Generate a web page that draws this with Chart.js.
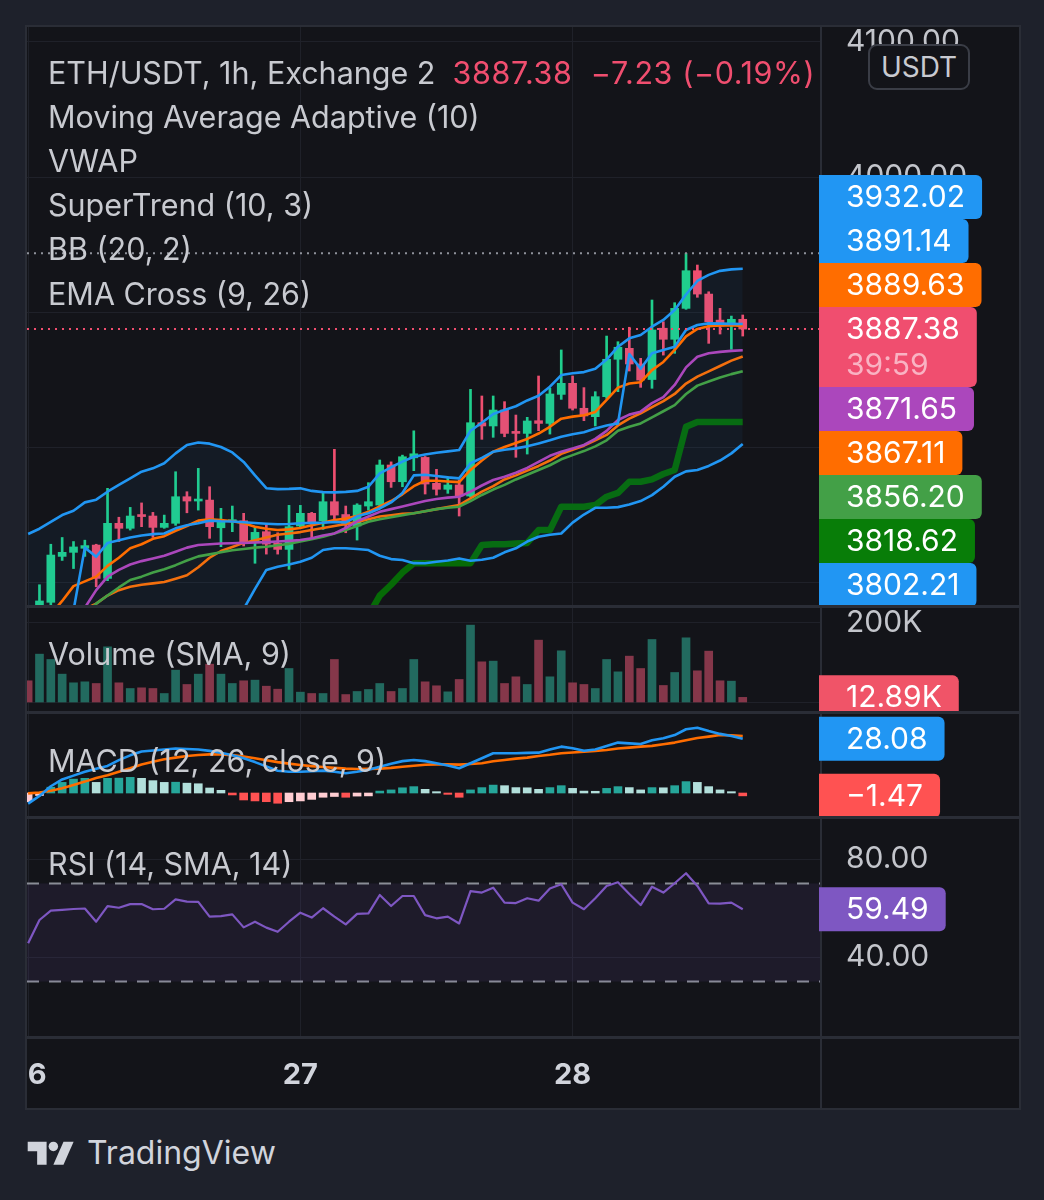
<!DOCTYPE html>
<html>
<head>
<meta charset="utf-8">
<title>ETH/USDT 1h</title>
<script src="https://cdn.jsdelivr.net/npm/chart.js@4.4.1/dist/chart.umd.min.js"></script>
<style>
  html, body { margin:0; padding:0; width:1044px; height:1200px; background:#1e212b; overflow:hidden; }
  body { position:relative; font-family: Inter, "Noto Sans", "DejaVu Sans", sans-serif; }
  #frame { position:absolute; left:25px; top:25px; width:996px; height:1085px; background:#2a2d36; }
  canvas { position:absolute; left:27px; background:#131419; }
  .lg { position:absolute; left:48px; font-size:30.5px; line-height:36px; color:#c8cad0; white-space:pre; }
  .red { color:#f04e6f; letter-spacing:0.6px; }
  #usdt { position:absolute; left:868px; top:44px; width:98px; height:42px; border:2px solid #3a3d46; border-radius:9px;
          background:#131419; color:#c8cad0; font-size:28px; line-height:42px; text-align:center; }
  #brand { position:absolute; left:27px; top:1134px; height:36px; display:flex; align-items:center; color:#d1d4dc; font-size:32px; }
  #brand svg { margin-right:10px; }
</style>
</head>
<body>
<div id="frame"></div>
<canvas id="cPrice" width="992" height="578" style="top:27px"></canvas>
<canvas id="cVol" width="992" height="103" style="top:608px"></canvas>
<canvas id="cMacd" width="992" height="102" style="top:714px"></canvas>
<canvas id="cRsi" width="992" height="289" style="top:819px"></canvas>

<div class="lg" style="top:55px">ETH/USDT, 1h, Exchange 2  <span class="red" id="hdrVal"></span></div>
<div class="lg" style="top:99px">Moving Average Adaptive (10)</div>
<div class="lg" style="top:143px">VWAP</div>
<div class="lg" style="top:187px">SuperTrend (10, 3)</div>
<div class="lg" style="top:231px">BB (20, 2)</div>
<div class="lg" style="top:276px">EMA Cross (9, 26)</div>
<div class="lg" style="top:636px">Volume (SMA, 9)</div>
<div class="lg" style="top:743px">MACD (12, 26, close, 9)</div>
<div class="lg" style="top:846px">RSI (14, SMA, 14)</div>
<div id="usdt">USDT</div>
<div id="brand">
  <svg width="50" height="27" viewBox="0 0 36 20"><path fill="#d1d4dc" d="M14 19H7V9H0V2h14v17z"/><circle fill="#d1d4dc" cx="19" cy="5.5" r="3.5"/><path fill="#d1d4dc" d="M26.5 19H19l7.5-17H34l-7.5 17z"/></svg>
  <span>TradingView</span>
</div>

<script>
// ---------- data (hourly candles, 26 00:00 .. 28 15:00) ----------
const dayStarts = [0, 24, 48];
const dayLabels = ['26', '27', '28'];
const X_RANGE = [-0.1, 69.9];

const open  = [3681,3672,3685,3719,3722,3725,3727.4,3702.7,3743.5,3739.8, 3749.6,3748.9,3740.5,3743.5,3763.2,3760,3760.7,3740.2,3744.7,3745.4,
               3729.1,3737.3,3728.7,3724.2,3741.5,3750.9,3745.4,3759.5,3750,3741.5, 3756.3,3757,3786.7,3774.3,3792,3792.3,3773.1,3768.7,3771.9,3763.7,
               3818,3815.6,3827.4,3811.3,3810.1,3819.5,3817.5,3839,3847.2,3828.7, 3822.5,3837.3,3865,3873.1,3861.5,3850,3888,3879.8,3902.7,3930.6,
               3913.3,3894,3890.4,3894.61];
const high  = [3682,3698,3728,3733,3730,3731,3728,3769.4,3748,3755.3, 3758.6,3751.6,3749.6,3781.7,3766.9,3784.2,3770.6,3754.6,3756.3,3750.9,
               3740.5,3742.2,3736.5,3756.8,3756.8,3751.6,3765.7,3798.3,3756.3,3758, 3773.6,3790.4,3789,3794,3812,3793,3783.5,3778,3775.6,3842.7,
               3837.8,3837.8,3833.6,3823.7,3822,3852.6,3843.5,3871.9,3852.6,3844, 3841,3882.2,3878,3888.7,3865.7,3908.9,3892.8,3906.9,3943.5,3934.8,
               3915,3902.7,3897,3897.8];
const low   = [3655,3668,3680,3716,3710,3719,3696.5,3701,3730,3738.5, 3741,3733.1,3739.8,3742,3751.3,3753.3,3732.4,3726.2,3737.3,3726.7,
               3713.9,3720.7,3720.7,3709.4,3739.8,3732.4,3739,3744.7,3736.5,3731.1, 3753.3,3756.3,3770.1,3770.6,3782.5,3765.2,3764.4,3765.7,3748.9,3763,
               3805.7,3807.2,3807.6,3792.4,3794.8,3812.1,3809.6,3835.3,3827.4,3819.5, 3815.6,3836,3841,3856.3,3844.2,3843.5,3868.1,3869.4,3902,3910.9,
               3876.8,3883.7,3872.4,3882.2];
const close = [3665,3686,3720,3722,3726,3727,3702.7,3743.5,3739.8,3748.9, 3748.5,3740.5,3743.5,3763.2,3760,3760.7,3741,3744.7,3745.9,3729.1,
               3736.8,3728.1,3724.2,3741,3750.9,3744.7,3759.5,3749.6,3742.2,3757, 3759.5,3786.7,3774.3,3792.8,3795,3772.6,3768.7,3771.9,3763.7,3818,
               3815.6,3827.4,3810.1,3810.1,3819.3,3817.5,3839.3,3847.2,3828.7,3823, 3837.3,3865,3873.9,3861.5,3849.6,3886.7,3879.8,3902.7,3930.6,3913.3,
               3892.8,3889.6,3894.61,3887.38];
const volumeK = [54.6,121.6,108.2,71.3,49.5,52,47.8,140,49.5,35.2, 36.9,35.2,22.6,81.3,45.3,71.3,96.4,71.3,47.8,54.6,
                 56.2,41,33.5,85.5,26,22.6,22.6,108.2,20,27.7, 32.7,47.8,27.7,35.2,108.2,52,42,26.8,57.9,194.6,
                 102.3,104,47.8,64.6,45.3,156.8,64.6,130,49.5,45.3, 35.2,108.2,77.1,116.6,85.5,158.5,42.8,75.5,162.7,79.7,
                 129.2,54.6,53.7,12.89];

// overlays
const bbUpper = [3735.6,3739.5,3744.5,3749.6,3752.8,3759,3761,3766.9,3771.9,3776.8, 3781.7,3784.2,3788,3795.3,3801.5,3803.3,3802.5,3800,3796,3789,
                 3779,3769.5,3768.8,3769,3769.4,3767.5,3766.6,3766.4,3766.8,3767.5, 3770.6,3780.5,3785,3789.2,3792.8,3794.5,3795.8,3796.8,3797.8,3812.1,
                 3818,3824.4,3827.5,3830.2,3834.5,3838,3844.7,3853.3,3854.6,3855.5, 3858,3864.8,3874.3,3880.5,3883,3889.1,3894.1,3901.5,3913,3923,
                 3927.5,3930.5,3931.6,3932.02];
const bbBasis = [3650,3658,3664,3670,3675,3680,3684,3690,3694,3696.5, 3698,3699,3700,3702.5,3705,3711,3718,3723,3726,3729,
                 3731,3733,3735,3736,3737,3738.5,3740,3741.5,3743,3744.5, 3746.5,3748.5,3749.5,3750.5,3751,3752.5,3754,3755.5,3757,3762,
                 3767,3771,3776,3779,3782.5,3786,3790,3795,3798,3801, 3805,3809,3816,3821,3825,3829.5,3834,3839.3,3847,3852.1,
                 3856,3860,3864,3867.11];
const bbLower = [3570,3575,3580,3588,3595,3600,3605,3612,3616,3616, 3614,3613,3612,3610,3608,3618,3634,3646,3657,3680,
                 3695,3709,3711.4,3713,3715,3718,3723.7,3725,3725,3724.5, 3723.7,3719.5,3717,3716.3,3714,3713.9,3715,3716,3717.5,3715.8,
                 3716.5,3718,3722,3725,3730,3733.6,3735,3736,3744,3750, 3755,3755,3755.5,3757.5,3760,3764.4,3770.6,3778,3782,3783,
                 3786,3790,3795.3,3802.21];
const vwap    = [3665,3668,3672,3676,3679,3725.5,3718.7,3729,3731,3733, 3734.5,3735.5,3736,3739.8,3742,3743.5,3745.5,3745,3744.8,3744.3,
                 3743.7,3743.2,3742.8,3743,3743.5,3743.8,3744,3744.5,3744.2,3748.7, 3751,3754.5,3759,3766,3779,3779.5,3778.5,3777.5,3776.8,3788,
                 3792,3796.5,3798,3799,3800.5,3802.7,3805,3807.6,3809.5,3811, 3813.8,3816,3817.5,3868.8,3858,3869.4,3871.9,3874.3,3886.7,3890.4,
                 3891.6,3891.4,3891.2,3891.14];
const maAdaptive = [3640,3650,3660,3668,3675,3681,3694,3704,3709,3713, 3715.5,3717.5,3719.5,3722.5,3725.5,3727.4,3728,3728.5,3728.7,3729,
                 3729.3,3729.6,3730,3730.5,3731.1,3732.5,3734.5,3736,3740,3745, 3748.5,3752,3754,3756,3758,3760,3761.5,3762.5,3763.2,3767,
                 3771.5,3775.6,3778,3781,3784.5,3789,3793.5,3796.5,3799,3801.5, 3806,3812,3820,3824,3826.2,3832.5,3837,3846,3859,3866.9,
                 3869.5,3870.5,3871.2,3871.65];
const emaFast = [3660,3668,3676,3686,3697,3700.5,3704,3712,3718,3725, 3728,3732,3734,3738,3741.5,3745.5,3746.5,3746,3745,3743.5,
                 3741,3739.5,3738.5,3739,3740,3742,3744,3746,3747,3749, 3752,3756,3760,3765,3771,3775,3775,3774.5,3774,3783,
                 3790,3796.5,3800,3803,3806,3810,3815,3821,3822.5,3823.5, 3826,3835,3844,3847,3848,3857,3863,3872,3882,3887.5,
                 3889.5,3890,3890.3,3889.63];
const emaSlow = [3630,3640,3650,3660,3668,3676,3684,3690,3696,3701.5, 3704,3707,3709.5,3712.5,3716,3719,3720.5,3722,3723.5,3724.5,
                 3725.5,3726.2,3727.2,3728.3,3730,3731.8,3733.5,3736,3738.5,3741.5, 3744.7,3746.5,3748,3749.5,3751,3752.5,3754,3755,3755.8,3760,
                 3764.5,3768.5,3772,3776,3779.5,3783,3786.5,3790.9,3794,3797, 3800.5,3805,3812,3815,3817.5,3822,3826.5,3831,3839.3,3845.5,
                 3848.5,3851.5,3854,3856.2];
const superTrend = [null,null,null,null,null,null,null,null,null,null, null,null,null,null,null,null,null,null,null,null,
                 null,null,null,null,null,null,null,null,null,null, 3675,3690,3698,3707,3714,3714,3714,3714,3714,3714,
                 3727.4,3728,3728,3728.5,3729,3738.5,3738.5,3755.8,3755.8,3755.8, 3757,3763.2,3766,3774.3,3774.3,3776,3780,3783,3815,3818.62,
                 3818.62,3818.62,3818.62,3818.62];

// MACD
const macdLine = [-5.5,-1.5,3.5,7,9,11,12.5,14,17,19.5, 21.5,22,22.5,23,22.8,22.5,21.8,20.8,19.5,18,
                  16,13.8,11.5,11,11,11.3,11.6,11,10.2,11, 12,13.6,15.2,16.5,17.1,16.5,15.4,14.2,12.8,15.4,
                  18,20.6,20.6,20.6,20.8,20.9,22.5,24,23.2,21.9, 22.5,24.3,26.1,25.7,25.4,27.3,28.3,30,33,33.8,
                  32.1,30.6,29.5,28.08];
const signalLine = [-0.2,0.3,1.2,2.5,4.2,5.9,7.8,9.2,11,12.8, 14.8,16.2,17.5,18.3,19.2,19.7,20,19.9,19.6,18.9,
                  18,17,16,15.2,14.5,13.9,13.5,13,12.6,12.4, 12.5,12.6,13,13.6,14.1,14.6,14.8,14.8,14.7,15,
                  15.4,16.4,17.1,17.8,18.3,19.2,19.8,20.6,21,21.4, 21.8,22.3,23,23.5,24,24.4,25.2,26.1,27.3,28.5,
                  29.2,30,29.9,29.55];
const macdHist = [-4.5,-1.3,3.0,5.5,7.2,7.6,5.5,7.6,7.7,8.1, 7.6,6.4,5.5,5.6,5.1,4.8,2.6,1.4,-1.0,-3.6,
                  -4.1,-4.5,-5.3,-4.5,-4.1,-3.3,-2.2,-1.8,-2.2,-1.6, -1.5,1.0,1.6,2.7,3.3,1.9,0.7,-0.7,-2.2,1.6,
                  2.8,4.1,3.8,2.8,2.7,1.9,2.8,3.8,2.4,1.0, 0.9,2.4,3.3,2.8,1.6,2.8,2.7,3.8,5.9,5.5,
                  3.3,1.6,0.7,-1.47];
// RSI
const rsi = [45.6,55.1,58.9,59.2,59.6,59.8,54.4,60.8,60.1,61.6, 61.6,59.5,59.7,63.5,62.6,62.5,56.5,56.7,57.4,52.1,
             54.4,52,50.3,54.4,58.1,56.1,59.9,56.5,53.3,57.6, 57.8,65.3,60.8,64.9,64.9,57.1,55.8,56.5,53.7,66.9,
             66.3,68.3,62.2,62,64,63,68,69.7,62.2,59.5, 64,69,70.5,65.7,61.2,68.7,66.3,70.1,74.2,69,
             61.9,61.8,62.2,59.49];
const rsiBands = [70, 30];

// axis ticks (grid levels, and the levels whose label stays visible)
const priceTicks = [3700, 3800, 3900, 4000, 4100];
const priceTickLabelled = [4000, 4100];
const volTicks = [0, 200];
const rsiTicks = [40, 80];
const countdown = '39:59';

// ---------- styling ----------
const FONT = 'Inter, "Noto Sans", sans-serif';
const GRID = '#1f2129';
const AXIS_TXT = '#c3c5cb';
const UP = '#20cf8c', DOWN = '#f04e6f';
const VOL_UP = '#226a5f', VOL_DOWN = '#85374a';
const BLUE = '#2196f3', ORANGE = '#ff6d00', PURPLE = '#ab47bc', GREEN = '#43a047';
const ST_LINE = '#066a06', ST_TAG = '#087d08';

Chart.defaults.font.family = FONT;

const idx = close.map((_, i) => i);
const last = close.length - 1;
const isUp = idx.map(i => close[i] >= open[i]);
const pts = arr => arr.map((v, i) => ({ x: i, y: v }));
const flat = v => [{ x: X_RANGE[0], y: v }, { x: X_RANGE[1], y: v }];

// header
const chg = close[last] - close[last - 1];
const sgn = chg < 0 ? '\u2212' : '+';
document.getElementById('hdrVal').textContent =
  close[last].toFixed(2) + '  ' + sgn + Math.abs(chg).toFixed(2) + ' (' + sgn + Math.abs(chg / close[last - 1] * 100).toFixed(2) + '%)';

function noPad(s) { s.paddingLeft = 0; s.paddingRight = 0; s.paddingTop = 0; s.paddingBottom = 0; }

function xAxis(showLabels) {
  return {
    type: 'linear', min: X_RANGE[0], max: X_RANGE[1], position: 'bottom',
    offset: false, bounds: 'data', grace: 0,
    border: { display: false },
    grid: { color: GRID, lineWidth: 1, drawTicks: false, offset: false },
    ticks: { display: showLabels, color: '#d1d4dc', font: { size: 29, weight: 'bold', family: FONT }, padding: 22,
             maxRotation: 0, minRotation: 0, autoSkip: false, callback: v => dayLabels[dayStarts.indexOf(v)] },
    afterBuildTicks: s => { s.ticks = dayStarts.map(v => ({ value: v })); },
    afterFit: s => { s.height = showLabels ? 72 : 0; noPad(s); }
  };
}
function yAxis(min, max, tickVals, fmt) {
  const has = tickVals.length > 0;
  return {
    type: 'linear', position: 'right', min, max, beginAtZero: false, bounds: 'data', grace: 0, offset: false,
    border: { display: false },
    grid: { display: has, color: GRID, drawTicks: false },
    ticks: { display: has, color: AXIS_TXT, font: { size: 30, family: FONT }, padding: 25, callback: v => fmt(v) },
    afterBuildTicks: s => { if (has) s.ticks = tickVals.map(v => ({ value: v })); },
    afterFit: s => { s.width = 198; noPad(s); }
  };
}
function baseOpts(scales, extra) {
  return {
    responsive: false, animation: false, events: [],
    layout: { padding: 0, autoPadding: false },
    plugins: Object.assign({ legend: { display: false }, tooltip: { enabled: false } }, extra || {}),
    scales
  };
}

// separators
const sepPlugin = {
  id: 'sep',
  afterDraw(chart, args, opts) {
    const { ctx, chartArea: a } = chart;
    ctx.save();
    ctx.fillStyle = '#2a2d36';
    ctx.fillRect(Math.round(a.right) - 1, 0, 2, chart.height);
    if (opts && opts.bottom) ctx.fillRect(0, Math.round(a.bottom), chart.width, 3);
    ctx.restore();
  }
};

function roundRight(ctx, x, y, w, h, r) {
  ctx.beginPath();
  ctx.moveTo(x, y);
  ctx.lineTo(x + w - r, y);
  ctx.arcTo(x + w, y, x + w, y + r, r);
  ctx.lineTo(x + w, y + h - r);
  ctx.arcTo(x + w, y + h, x + w - r, y + h, r);
  ctx.lineTo(x, y + h);
  ctx.closePath();
}
function drawTag(ctx, x, top, h, color, text) {
  ctx.font = '30px ' + FONT;
  const width = ctx.measureText(text).width + 44;
  ctx.fillStyle = color;
  roundRight(ctx, x, top, width, h, 6);
  ctx.fill();
  ctx.fillStyle = '#ffffff';
  ctx.textBaseline = 'middle';
  ctx.textAlign = 'left';
  ctx.fillText(text, x + 27, top + h / 2 + 1);
}

// price-axis tags, stacked so they do not overlap
const priceTags = [
  { v: bbUpper[last], color: BLUE },
  { v: vwap[last], color: BLUE },
  { v: emaFast[last], color: ORANGE },
  { v: maAdaptive[last], color: PURPLE },
  { v: bbBasis[last], color: ORANGE },
  { v: emaSlow[last], color: GREEN },
  { v: superTrend[last], color: ST_TAG },
  { v: bbLower[last], color: BLUE }
];
const priceTagPlugin = {
  id: 'priceTags',
  afterDraw(chart) {
    const { ctx, chartArea: a, scales: { y } } = chart;
    const H = 44, x = a.right - 2;
    const main = close[last];
    const mainTop = y.getPixelForValue(main) - H / 2, mainH = 80;
    ctx.save();
    const above = priceTags.filter(t => t.v > main).sort((p, q) => p.v - q.v);
    const below = priceTags.filter(t => t.v <= main).sort((p, q) => q.v - p.v);
    let top = mainTop;
    above.forEach(t => {
      const c = Math.min(y.getPixelForValue(t.v), top - H / 2);
      drawTag(ctx, x, c - H / 2, H, t.color, t.v.toFixed(2));
      top = c - H / 2;
    });
    let bot = mainTop + mainH;
    below.forEach(t => {
      const c = Math.max(y.getPixelForValue(t.v), bot + H / 2);
      drawTag(ctx, x, c - H / 2, H, t.color, t.v.toFixed(2));
      bot = c + H / 2;
    });
    ctx.font = '30px ' + FONT;
    const mt = main.toFixed(2);
    const w = ctx.measureText(mt).width + 44;
    ctx.fillStyle = DOWN;
    roundRight(ctx, x, mainTop, w, mainH, 6);
    ctx.fill();
    ctx.fillStyle = '#ffffff';
    ctx.textBaseline = 'middle';
    ctx.textAlign = 'left';
    ctx.fillText(mt, x + 27, mainTop + 23);
    ctx.fillStyle = '#f9b3c3';
    ctx.fillText(countdown, x + 27, mainTop + 59);
    ctx.restore();
  }
};
function paneTagPlugin(id, tags) {
  return {
    id,
    afterDraw(chart) {
      const { ctx, chartArea: a, scales: { y } } = chart;
      ctx.save();
      tags().forEach(t => drawTag(ctx, a.right - 2, y.getPixelForValue(t.v) - 22, 44, t.color, t.text));
      ctx.restore();
    }
  };
}

// ---------- price chart ----------
const line = (label, arr, color, width, order, extra) => Object.assign({
  type: 'line', label, data: pts(arr), borderColor: color, borderWidth: width || 3,
  pointRadius: 0, tension: 0, fill: false, order: order || 1, borderJoinStyle: 'round'
}, extra || {});

const priceDatasets = [
  { type: 'bar', label: 'wick', data: idx.map(i => ({ x: i, y: [low[i], high[i]] })),
    backgroundColor: idx.map(i => isUp[i] ? UP : DOWN), barThickness: 2, grouped: false, order: 11 },
  { type: 'bar', label: 'body', data: idx.map(i => ({ x: i, y: [open[i], close[i]] })),
    backgroundColor: idx.map(i => isUp[i] ? UP : DOWN), barThickness: 8, minBarLength: 2, grouped: false, order: 10 },
  line('BB lower', bbLower, BLUE, 2.6, 3),
  line('BB upper', bbUpper, BLUE, 2.6, 3),
  line('BB basis', bbBasis, ORANGE, 2.6, 3),
  line('SuperTrend', superTrend, ST_LINE, 6.5, 4),
  line('VWAP', vwap, BLUE, 2.6, 2),
  line('MA adaptive', maAdaptive, PURPLE, 2.6, 2),
  line('EMA 26', emaSlow, GREEN, 2.6, 2),
  line('EMA 9', emaFast, ORANGE, 2.6, 2),
  { type: 'line', label: 'high', data: flat(Math.max(...high)), borderColor: '#8f929b', borderWidth: 2,
    borderDash: [2, 5], pointRadius: 0, order: 0 },
  { type: 'line', label: 'last', data: flat(close[last]), borderColor: DOWN, borderWidth: 2,
    borderDash: [2, 5], pointRadius: 0, order: 0 }
];
priceDatasets[3].fill = { target: 2, above: 'rgba(33,150,243,0.055)', below: 'rgba(33,150,243,0.055)' };

new Chart(document.getElementById('cPrice'), {
  data: { datasets: priceDatasets },
  options: baseOpts({ x: xAxis(false), y: yAxis(3683, 4111.1, priceTicks, v => priceTickLabelled.includes(v) ? v.toFixed(2) : '') }),
  plugins: [sepPlugin, priceTagPlugin]
});

// ---------- volume ----------
new Chart(document.getElementById('cVol'), {
  data: { datasets: [
    { type: 'bar', data: idx.map(i => ({ x: i, y: volumeK[i] })), backgroundColor: idx.map(i => isUp[i] ? VOL_UP : VOL_DOWN),
      barThickness: 8, grouped: false }
  ] },
  options: baseOpts({ x: xAxis(false), y: yAxis(-21.4, 237.7, volTicks, v => v ? v + 'K' : '') }),
  plugins: [sepPlugin, paneTagPlugin('volTag', () => [{ v: volumeK[last], color: '#f05468', text: volumeK[last].toFixed(2) + 'K' }])]
});

// ---------- MACD ----------
const histColors = macdHist.map((h, i) => {
  const prev = i > 0 ? macdHist[i - 1] : -Infinity;
  if (h >= 0) return h >= prev ? '#26a69a' : '#b2dfdb';
  return h >= prev ? '#ffcdd2' : '#ff5252';
});
new Chart(document.getElementById('cMacd'), {
  data: { datasets: [
    { type: 'bar', data: pts(macdHist), backgroundColor: histColors, barThickness: 8, grouped: false, order: 5 },
    line('MACD', macdLine, BLUE, 2.6, 1),
    line('Signal', signalLine, ORANGE, 2.6, 2)
  ] },
  options: baseOpts({ x: xAxis(false), y: yAxis(-11.9, 40.9, [], v => v) }),
  plugins: [sepPlugin, paneTagPlugin('macdTag', () => [
    { v: macdLine[last], color: BLUE, text: macdLine[last].toFixed(2) },
    { v: macdHist[last], color: '#ff5252', text: '\u2212' + Math.abs(macdHist[last]).toFixed(2) }
  ])]
});

// ---------- RSI + time axis ----------
new Chart(document.getElementById('cRsi'), {
  data: { datasets: [
    { type: 'line', data: flat(rsiBands[0]), borderColor: '#8a8d96', borderWidth: 2, borderDash: [12, 10], pointRadius: 0,
      fill: { target: 1, above: 'rgba(126,87,194,0.1)', below: 'rgba(126,87,194,0.1)' }, order: 3 },
    { type: 'line', data: flat(rsiBands[1]), borderColor: '#8a8d96', borderWidth: 2, borderDash: [12, 10], pointRadius: 0, order: 3 },
    line('RSI', rsi, '#7e57c2', 2.2, 1)
  ] },
  options: baseOpts({ x: xAxis(true), y: yAxis(7.76, 96.33, rsiTicks, v => v.toFixed(2)) }, { sep: { bottom: true } }),
  plugins: [sepPlugin, paneTagPlugin('rsiTag', () => [{ v: rsi[last], color: '#7e57c2', text: rsi[last].toFixed(2) }])]
});
</script>
</body>
</html>
